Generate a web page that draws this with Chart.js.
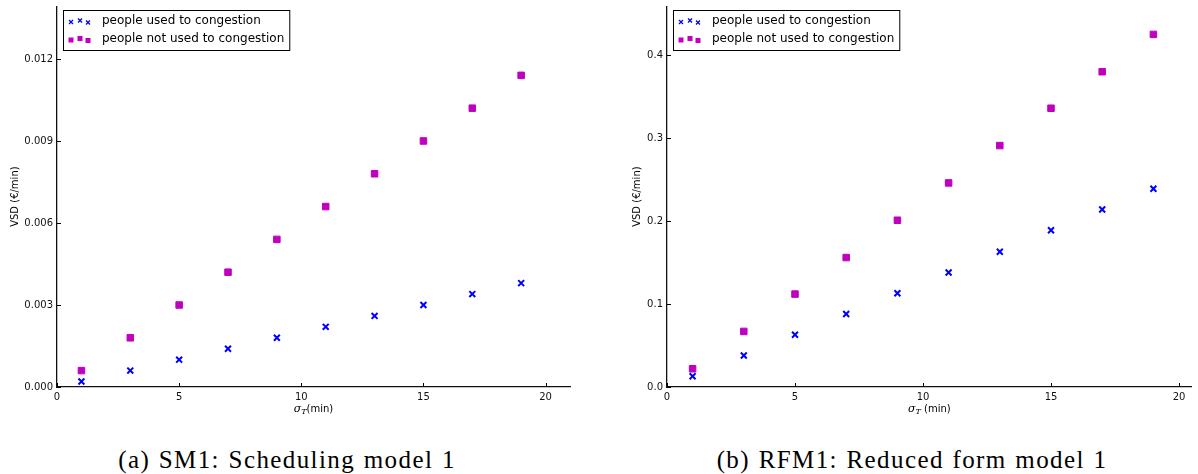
<!DOCTYPE html>
<html>
<head>
<meta charset="utf-8">
<script src="https://cdn.jsdelivr.net/npm/chart.js@4/dist/chart.umd.min.js"></script>
<style>
  body { margin: 0; background: #fff; width: 1198px; height: 474px; position: relative; overflow: hidden; }
  .panel { position: absolute; top: 0; }
  .caption { position: absolute; top: 446px; font-family: "Liberation Serif", serif; font-size: 25px; letter-spacing: 1.4px; word-spacing: 1px; color: #000; text-align: center; white-space: nowrap; }
</style>
</head>
<body>
<div class="panel" style="left:0px"><canvas id="sm1" width="590" height="420"></canvas></div>
<div class="panel" style="left:600px"><canvas id="rfm1" width="598" height="420"></canvas></div>
<div class="caption" style="left:87px;width:400px">(a) SM1: Scheduling model 1</div>
<div class="caption" style="left:712px;width:400px">(b) RFM1: Reduced form model 1</div>
<script>
const xValues = [1, 3, 5, 7, 9, 11, 13, 15, 17, 19];
const seriesLabels = ['people used to congestion', 'people not used to congestion'];

// SM1 (€/min)
const sm1Used = [0.0002, 0.0006, 0.0010, 0.0014, 0.0018, 0.0022, 0.0026, 0.0030, 0.0034, 0.0038];
const sm1NotUsed = [0.0006, 0.0018, 0.0030, 0.0042, 0.0054, 0.0066, 0.0078, 0.0090, 0.0102, 0.0114];
const sm1YTicks = [0, 0.003, 0.006, 0.009, 0.012];

// RFM1 (€/min)
const rfm1Used = [0.013, 0.038, 0.063, 0.088, 0.113, 0.138, 0.163, 0.189, 0.214, 0.239];
const rfm1NotUsed = [0.022, 0.067, 0.112, 0.156, 0.201, 0.246, 0.291, 0.336, 0.380, 0.425];
const rfm1YTicks = [0, 0.1, 0.2, 0.3, 0.4];

const xTicks = [0, 5, 10, 15, 20];

const BLUE = '#0000ff';
const MAGENTA = '#bf00bf';
const FONT = '"DejaVu Sans", sans-serif';

function drawX(ctx, x, y, h, w) {
  ctx.save();
  ctx.strokeStyle = BLUE; ctx.lineWidth = w;
  ctx.beginPath();
  ctx.moveTo(x - h, y - h); ctx.lineTo(x + h, y + h);
  ctx.moveTo(x - h, y + h); ctx.lineTo(x + h, y - h);
  ctx.stroke();
  ctx.restore();
}

function drawSquare(ctx, x, y, s) {
  ctx.fillStyle = MAGENTA;
  ctx.fillRect(x - s / 2, y - s / 2, s, s);
}

// inward ticks, axis titles and the three-marker legend
const decor = {
  id: 'decor',
  afterDraw(chart, args, o) {
    const ctx = chart.ctx, a = chart.chartArea;
    const xs = chart.scales.x, ys = chart.scales.y;
    ctx.save();
    ctx.strokeStyle = '#000';
    ctx.lineWidth = 1;
    xs.ticks.forEach(t => {
      const px = Math.round(xs.getPixelForValue(t.value)) + 0.5;
      ctx.beginPath(); ctx.moveTo(px, a.bottom); ctx.lineTo(px, a.bottom - 4); ctx.stroke();
    });
    ys.ticks.forEach(t => {
      const py = Math.round(ys.getPixelForValue(t.value)) + 0.5;
      ctx.beginPath(); ctx.moveTo(a.left, py); ctx.lineTo(a.left + 4, py); ctx.stroke();
    });

    // y title
    ctx.fillStyle = '#000';
    ctx.font = '10px ' + FONT;
    ctx.save();
    ctx.translate(o.yTitleX, (a.top + a.bottom) / 2);
    ctx.rotate(-Math.PI / 2);
    ctx.textAlign = 'center';
    ctx.textBaseline = 'middle';
    ctx.fillText('VSD (€/min)', 0, 0);
    ctx.restore();

    // x title: sigma_T (min)
    const rest = o.xTitleRest;
    ctx.font = 'italic 11px "DejaVu Serif", serif';
    const wS = ctx.measureText('σ').width;
    ctx.font = 'italic 8px "DejaVu Serif", serif';
    const wT = ctx.measureText('T').width;
    ctx.font = '10px ' + FONT;
    const wR = ctx.measureText(rest).width;
    let tx = (a.left + a.right) / 2 - (wS + wT + wR) / 2;
    const ty = 412;
    ctx.textAlign = 'left';
    ctx.textBaseline = 'alphabetic';
    ctx.font = 'italic 11px "DejaVu Serif", serif';
    ctx.fillText('σ', tx, ty); tx += wS;
    ctx.font = 'italic 8px "DejaVu Serif", serif';
    ctx.fillText('T', tx, ty + 2); tx += wT;
    ctx.font = '10px ' + FONT;
    ctx.fillText(rest, tx, ty);

    // legend
    ctx.font = '12px ' + FONT;
    const bx = a.left + 6, by = 10;
    const textX = bx + 39;
    const tw = Math.max(...seriesLabels.map(s => ctx.measureText(s).width));
    const bw = textX - bx + tw + 5, bh = 40;
    ctx.fillStyle = '#fff';
    ctx.fillRect(bx, by, bw, bh);
    ctx.strokeStyle = '#000';
    ctx.lineWidth = 1;
    ctx.strokeRect(bx + 0.5, by + 0.5, bw, bh);
    const rows = [by + 11, by + 29];
    const offs = [[8, 1], [17, -0.5], [25, 1.5]];
    offs.forEach(([dx, dy]) => {
      drawX(ctx, bx + dx, rows[0] + dy, 2, 1.3);
      drawSquare(ctx, bx + dx, rows[1] + dy, 5);
    });
    ctx.fillStyle = '#000';
    ctx.textBaseline = 'middle';
    seriesLabels.forEach((s, i) => ctx.fillText(s, textX, rows[i]));
    ctx.restore();
  }
};

function makeChart(id, used, notUsed, yTicks, yMax, xMax, yWidth, padRight, digits, yTitleX, xTitleRest) {
  return new Chart(document.getElementById(id), {
    type: 'scatter',
    data: {
      datasets: [
        {
          label: seriesLabels[0],
          data: xValues.map((x, i) => ({ x: x, y: used[i] })),
          pointStyle: 'crossRot',
          pointRadius: 4.2,
          pointHoverRadius: 4.2,
          borderColor: BLUE,
          backgroundColor: BLUE,
          pointBorderWidth: 2
        },
        {
          label: seriesLabels[1],
          data: xValues.map((x, i) => ({ x: x, y: notUsed[i] })),
          pointStyle: 'rect',
          pointRadius: 4.6,
          pointHoverRadius: 4.6,
          borderColor: MAGENTA,
          backgroundColor: MAGENTA,
          pointBorderWidth: 1
        }
      ]
    },
    options: {
      responsive: false,
      animation: false,
      events: [],
      layout: { padding: { top: 0, right: padRight, left: 0, bottom: 0 } },
      plugins: {
        legend: { display: false },
        tooltip: { enabled: false },
        decor: { yTitleX: yTitleX, xTitleRest: xTitleRest }
      },
      scales: {
        x: {
          type: 'linear',
          min: 0,
          max: xMax,
          afterBuildTicks: s => { s.ticks = xTicks.map(v => ({ value: v })); },
          afterFit: s => { s.height = 33; },
          grid: { display: false, drawTicks: false },
          border: { display: true, color: '#111', width: 1.3 },
          ticks: { font: { family: FONT, size: 10 }, color: '#111', padding: 4, maxRotation: 0 }
        },
        y: {
          min: 0,
          max: yMax,
          afterBuildTicks: s => { s.ticks = yTicks.map(v => ({ value: v })); },
          afterFit: s => { s.width = yWidth; s.paddingTop = 0; },
          grid: { display: false, drawTicks: false },
          border: { display: true, color: '#111', width: 1.3 },
          ticks: {
            font: { family: FONT, size: 10 },
            color: '#111',
            padding: 4,
            callback: v => Number(v).toFixed(digits)
          }
        }
      }
    },
    plugins: [decor]
  });
}

makeChart('sm1', sm1Used, sm1NotUsed, sm1YTicks, 0.01393, 21, 57, 20, 3, 15, '(min)');
makeChart('rfm1', rfm1Used, rfm1NotUsed, rfm1YTicks, 0.459, 20.5, 67, 5, 1, 37, ' (min)');
</script>
</body>
</html>
